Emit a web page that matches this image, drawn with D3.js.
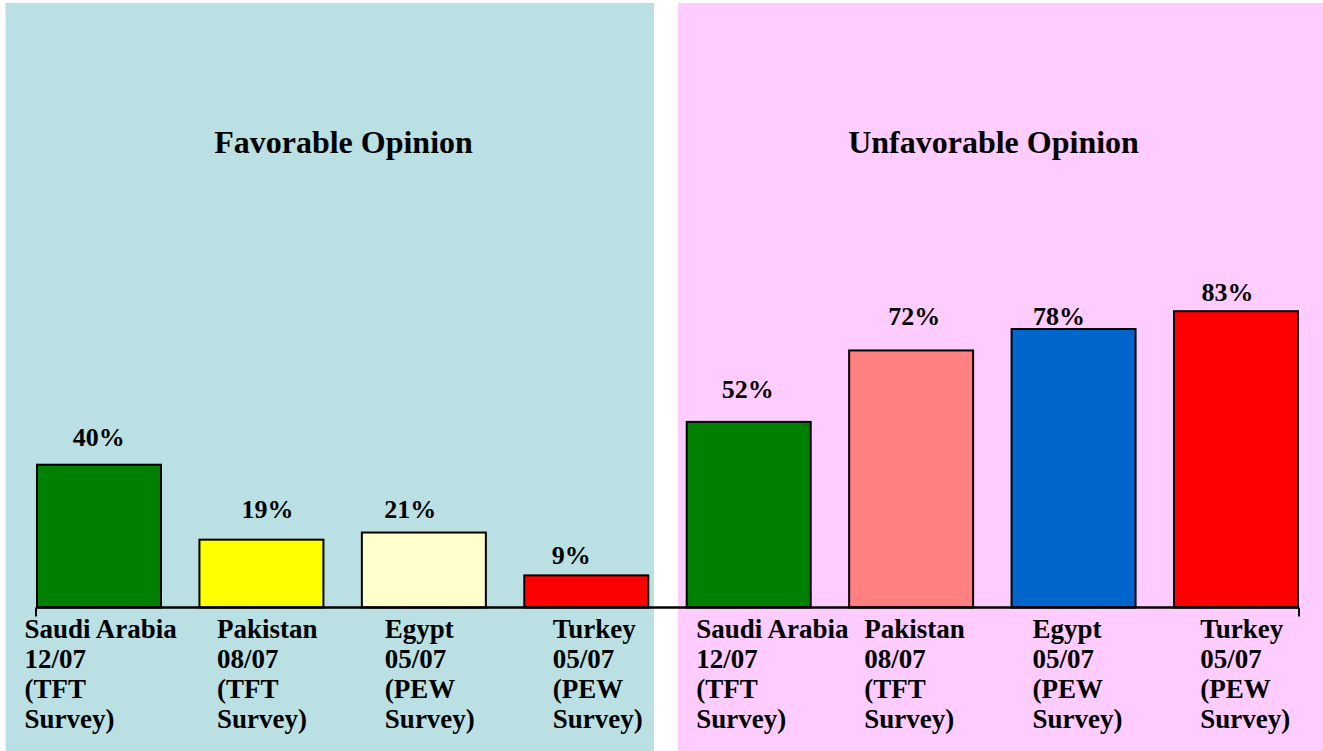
<!DOCTYPE html>
<html>
<head>
<meta charset="utf-8">
<script src="https://cdn.jsdelivr.net/npm/d3@7/dist/d3.min.js"></script>
<style>
  html, body { margin: 0; padding: 0; background: #ffffff; }
  svg { display: block; }
  text { font-family: "Liberation Serif", "Times New Roman", serif; font-weight: bold; fill: #000; }
</style>
</head>
<body>
<svg id="chart" width="1323" height="751"></svg>
<script>
// ---- data ----
const groups = ["Favorable Opinion", "Unfavorable Opinion"];
const countries = ["Saudi Arabia", "Pakistan", "Egypt", "Turkey"];
const surveyDates = ["12/07", "08/07", "05/07", "05/07"];
const surveySources = ["(TFT", "(TFT", "(PEW", "(PEW"];
const favorable = [40, 19, 21, 9];
const unfavorable = [52, 72, 78, 83];
const favorableColors = ["#008000", "#FFFF00", "#FFFFCC", "#FF0000"];
const unfavorableColors = ["#008000", "#FF8080", "#0066CC", "#FF0000"];

// ---- layout (label nudges as placed in the original) ----
const valueLabelNudge = [[-0.3, -19], [6, -22], [-13.5, -15], [-15, -11.5],
                         [-1, -24], [3, -25], [-14.5, -3.6], [-8.5, -10]];
const catLabelNudge = [-74.5, -44.5, -39, -33.5, -52.4, -46.8, -41, -35.7];

const svg = d3.select("#chart");
const W = 1323, H = 751;

// rows
const rows = [];
groups.forEach((g, gi) => {
  const vals = gi === 0 ? favorable : unfavorable;
  const cols = gi === 0 ? favorableColors : unfavorableColors;
  countries.forEach((c, i) => {
    rows.push({ key: g + "|" + c, group: g, gi, country: c, date: surveyDates[i],
                source: surveySources[i], value: vals[i], color: cols[i] });
  });
});

// panels
const panels = [
  { x0: 5.5, x1: 654, color: "#BAE0E3", title: groups[0], tx: 343.5 },
  { x0: 678, x1: 1323, color: "#FFCCFF", title: groups[1], tx: 993.5 }
];
svg.selectAll("rect.panel").data(panels).enter().append("rect")
  .attr("class", "panel")
  .attr("x", d => d.x0).attr("y", 3)
  .attr("width", d => d.x1 - d.x0).attr("height", H - 3)
  .attr("fill", d => d.color);

svg.selectAll("text.title").data(panels).enter().append("text")
  .attr("class", "title")
  .attr("x", d => d.tx).attr("y", 153)
  .attr("text-anchor", "middle")
  .style("font-size", "32px")
  .text(d => d.title);

// scales
const x = d3.scaleBand().domain(rows.map(d => d.key))
  .range([37, 1298]).paddingInner(0.2366).paddingOuter(0);
const y = d3.scaleLinear().domain([0, 100]).range([607.5, 250.5]);

// bars
svg.selectAll("rect.bar").data(rows).enter().append("rect")
  .attr("class", "bar")
  .attr("x", d => x(d.key))
  .attr("y", d => y(d.value))
  .attr("width", x.bandwidth())
  .attr("height", d => y(0) - y(d.value))
  .attr("fill", d => d.color)
  .attr("stroke", "#000")
  .attr("stroke-width", 2);

// axis baseline with end ticks
const axisG = svg.append("g").attr("transform", `translate(0,${y(0)})`);
const xr = x.range();
axisG.append("line")
  .attr("x1", xr[0] - 1).attr("x2", xr[1] + 1)
  .attr("y1", 0).attr("y2", 0)
  .attr("stroke", "#000").attr("stroke-width", 2.5);
[xr[0] - 1, xr[1] + 1].forEach(px => {
  axisG.append("line")
    .attr("x1", px).attr("x2", px).attr("y1", 0).attr("y2", 9)
    .attr("stroke", "#000").attr("stroke-width", 2);
});

// value labels
svg.selectAll("text.val").data(rows).enter().append("text")
  .attr("class", "val")
  .attr("x", (d, i) => x(d.key) + x.bandwidth() / 2 + valueLabelNudge[i][0])
  .attr("y", (d, i) => y(d.value) + valueLabelNudge[i][1])
  .attr("text-anchor", "middle")
  .style("font-size", "26px")
  .text(d => d.value + "%");

// category labels
const cat = svg.selectAll("text.cat").data(rows).enter().append("text")
  .attr("class", "cat")
  .attr("x", (d, i) => x(d.key) + x.bandwidth() / 2 + catLabelNudge[i])
  .attr("y", 638)
  .style("font-size", "27px");
cat.each(function(d, i) {
  const lines = [d.country, d.date, d.source, "Survey)"];
  const t = d3.select(this);
  const x0 = +t.attr("x");
  lines.forEach((ln, li) => {
    t.append("tspan").attr("x", x0).attr("dy", li === 0 ? 0 : 30).text(ln);
  });
});
</script>
</body>
</html>
